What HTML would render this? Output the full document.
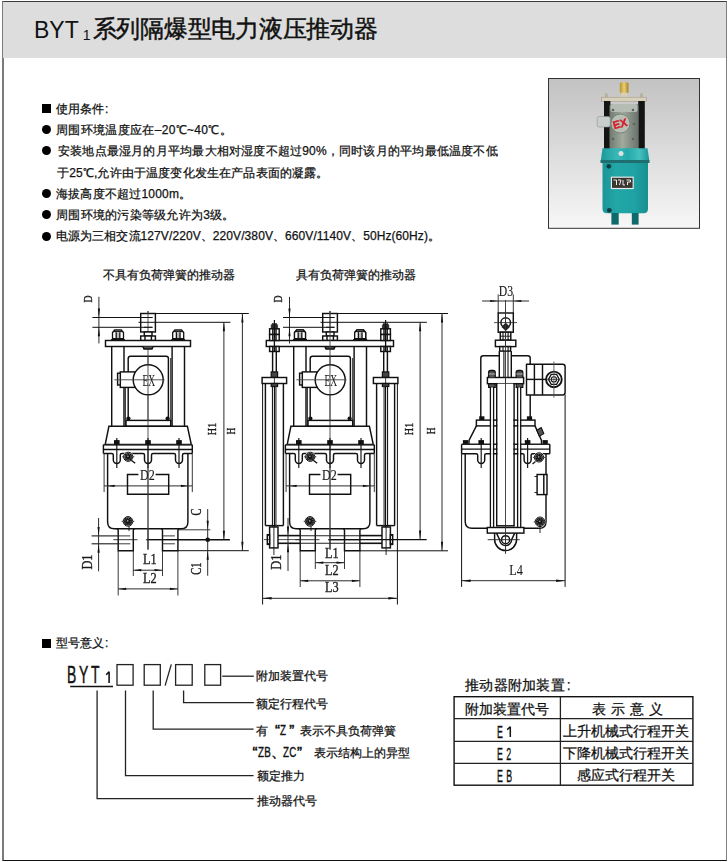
<!DOCTYPE html>
<html><head><meta charset="utf-8">
<style>
*{margin:0;padding:0;box-sizing:border-box}
html,body{width:728px;height:862px;background:#fff;overflow:hidden}
body{position:relative;font-family:"Liberation Sans",sans-serif;color:#111}
.a{position:absolute;white-space:nowrap}
#frame{position:absolute;left:2px;top:1px;width:725px;height:860px;border-top:1px solid #3a3a3a;border-left:2px solid #7a7a7a;border-right:1px solid #7f7f7f;border-bottom:1px solid #111}
#hdr{position:absolute;left:3px;top:2px;width:723px;height:56px;background:#dcdddc}
#title{left:34px;top:15px;line-height:28px;color:#111}
#title sub{font-size:13px;vertical-align:-2px;margin:0 2px 0 2px}
.t{font-size:12px;line-height:14px;left:56px;-webkit-text-stroke:.25px #111}
.bul{position:absolute;left:42px;width:9px;height:9px;border-radius:50%;background:#000}
.sq{position:absolute;left:42px;width:9px;height:9px;background:#000}
.m{font-size:11px;line-height:14px}
.cz{font-size:24px;line-height:26px;transform:scaleX(.58);transform-origin:0 0;color:#111;-webkit-text-stroke:.5px #111}
.cz1{font-size:16.5px;line-height:16px;transform:scaleX(.6);transform-origin:0 0;color:#111;-webkit-text-stroke:.4px #111}
.q{display:inline-block;width:12px;text-align:right;font-size:15px;-webkit-text-stroke:.5px #111}
.ql{text-align:left}
.qc{text-align:center}
.zz{display:inline-block;font-size:14px;transform:scaleX(.7);transform-origin:0 0;letter-spacing:.3px;-webkit-text-stroke:.4px #111}
.tb{font-size:14px;line-height:16px;-webkit-text-stroke:.25px #111}
.sp{display:inline-block;width:5px}
.te{font-size:16px;line-height:16px;letter-spacing:6px;transform:scaleX(.55);transform-origin:0 0;-webkit-text-stroke:.35px #111}
svg{position:absolute;left:0;top:0}
</style></head><body>
<div id="frame"></div>
<div id="hdr"></div>
<div class="a" id="title"><span style="font-size:23px;letter-spacing:0px;position:relative;top:1px">BYT</span><span style="font-size:14px;position:relative;top:3px;margin-left:4px">1</span><span style="font-size:24px;margin-left:2px;letter-spacing:-0.25px;-webkit-text-stroke:.45px #111">系列隔爆型电力液压推动器</span></div>

<div class="sq" style="top:104px;height:9.4px"></div>
<div class="a t" style="top:102px">使用条件<span style="margin-left:1px">:</span></div>
<div class="bul" style="top:125.2px"></div>
<div class="a t" style="top:123px;letter-spacing:.33px">周围环境温度应在–20℃~40℃。</div>
<div class="bul" style="top:146.2px"></div>
<div class="a t" style="top:144px;left:58px;letter-spacing:.21px">安装地点最湿月的月平均最大相对湿度不超过90%，同时该月的平均最低温度不低</div>
<div class="a t" style="top:166px;left:57px;letter-spacing:.16px">于25℃,允许由于温度变化发生在产品表面的凝露。</div>
<div class="bul" style="top:189.2px"></div>
<div class="a t" style="top:187px;letter-spacing:.21px">海拔高度不超过1000m。</div>
<div class="bul" style="top:210.1px"></div>
<div class="a t" style="top:208px;letter-spacing:.27px">周围环境的污染等级允许为3级。</div>
<div class="bul" style="top:232.2px"></div>
<div class="a t" style="top:229px;letter-spacing:.085px">电源为三相交流127V/220V、220V/380V、660V/1140V、50Hz(60Hz)。</div>

<div class="a t" style="left:103px;top:268px">不具有负荷弹簧的推动器</div>
<div class="a t" style="left:296px;top:268px">具有负荷弹簧的推动器</div>

<div class="sq" style="top:638.6px;height:9.4px"></div>
<div class="a t" style="top:636px">型号意义<span style="margin-left:1px">:</span></div>

<div class="a cz" style="left:66.5px;top:662px">B</div>
<div class="a cz" style="left:79.2px;top:662px">Y</div>
<div class="a cz" style="left:90.8px;top:662px">T</div>

<div class="a t" style="left:256px;top:669px">附加装置代号</div>
<div class="a t" style="left:256px;top:697px">额定行程代号</div>
<div class="a t" style="left:256px;top:723px">有<span class="q">“</span><span class="zz" style="margin-right:-2.6px">Z</span><span class="q ql" style="width:14px;padding-left:3px">”</span>表示不具负荷弹簧</div>
<div class="a t" style="left:245.5px;top:745px"><span class="q">“</span><span class="zz" style="margin-right:-5.5px">ZB</span><span class="q qc">、</span><span class="zz" style="margin-right:-5.8px">ZC</span><span class="q ql" style="width:18px;padding-left:1px">”</span>表示结构上的异型</div>
<div class="a t" style="left:257px;top:769px">额定推力</div>
<div class="a t" style="left:257px;top:794px">推动器代号</div>

<div class="a tb" style="left:465px;top:677px;letter-spacing:.25px">推动器附加装置<span style="margin-left:2px">:</span></div>
<div class="a tb" style="left:465px;top:701px">附加装置代号</div>
<div class="a tb" style="left:592px;top:701px;word-spacing:0">表<span class="sp"></span>示<span class="sp"></span>意<span class="sp"></span>义</div>
<div class="a te" style="left:497px;top:725px">E</div>
<div class="a te" style="left:497px;top:747px">E2</div>
<div class="a te" style="left:497px;top:769px">EB</div>
<div class="a tb" style="left:563px;top:723px">上升机械式行程开关</div>
<div class="a tb" style="left:563px;top:745px">下降机械式行程开关</div>
<div class="a tb" style="left:577px;top:767px">感应式行程开关</div>

<!--SVG--><svg width="728" height="862" viewBox="0 0 728 862" style="will-change:transform">
<line x1="148.00" y1="311.00" x2="148.00" y2="549.50" stroke="#444" stroke-width="0.9" fill="none"/>
<rect x="140.70" y="313.50" width="14.70" height="18.50" stroke="#111" stroke-width="1.45"  fill="#fff"/>
<line x1="144.00" y1="317.50" x2="152.50" y2="317.50" stroke="#111" stroke-width="0.9"/>
<line x1="144.00" y1="327.30" x2="152.50" y2="327.30" stroke="#111" stroke-width="0.9"/>
<line x1="148.00" y1="311.00" x2="148.00" y2="349.00" stroke="#444" stroke-width="0.9" fill="none"/>
<rect x="144.30" y="332.00" width="7.70" height="4.00" stroke="#111" stroke-width="1.45"  fill="#fff"/>
<rect x="140.70" y="336.00" width="14.70" height="4.50" stroke="#111" stroke-width="1.45"  fill="#fff"/>
<line x1="145.00" y1="336.00" x2="145.00" y2="340.50" stroke="#111" stroke-width="1.45" fill="none"/>
<line x1="151.40" y1="336.00" x2="151.40" y2="340.50" stroke="#111" stroke-width="1.45" fill="none"/>
<rect x="105.50" y="340.50" width="85.00" height="6.00" stroke="#111" stroke-width="1.45"  fill="#fff"/>
<path d="M143.00,346.5 L144.00,349 L152.00,349 L153.00,346.5" stroke="#111" stroke-width="1.5" fill="#555" />
<path d="M112.50,338.70 L112.50,332.60 L114.70,330.00 L121.30,330.00 L123.50,332.60 L123.50,338.70 Z" stroke="#111" stroke-width="1.3" fill="#fff"/>
<line x1="113.30" y1="331.60" x2="122.70" y2="331.60" stroke="#111" stroke-width="1.1"/>
<rect x="116.17" y="332.40" width="3.67" height="6.10" stroke="none" fill="#bbb"/>
<line x1="116.17" y1="332.20" x2="116.17" y2="338.70" stroke="#111" stroke-width="1.3"/>
<line x1="119.83" y1="332.20" x2="119.83" y2="338.70" stroke="#111" stroke-width="1.3"/>
<path d="M110.70,340.50 L112.50,338.50 L123.50,338.50 L125.30,340.50 Z" stroke="#111" stroke-width="0.8" fill="#111"/>
<path d="M172.70,338.70 L172.70,332.60 L174.90,330.00 L181.50,330.00 L183.70,332.60 L183.70,338.70 Z" stroke="#111" stroke-width="1.3" fill="#fff"/>
<line x1="173.50" y1="331.60" x2="182.90" y2="331.60" stroke="#111" stroke-width="1.1"/>
<rect x="176.37" y="332.40" width="3.67" height="6.10" stroke="none" fill="#bbb"/>
<line x1="176.37" y1="332.20" x2="176.37" y2="338.70" stroke="#111" stroke-width="1.3"/>
<line x1="180.03" y1="332.20" x2="180.03" y2="338.70" stroke="#111" stroke-width="1.3"/>
<path d="M170.90,340.50 L172.70,338.50 L183.70,338.50 L185.50,340.50 Z" stroke="#111" stroke-width="0.8" fill="#111"/>
<line x1="111.70" y1="346.50" x2="111.70" y2="426.30" stroke="#111" stroke-width="1.45" fill="none"/>
<line x1="124.00" y1="346.50" x2="124.00" y2="426.30" stroke="#111" stroke-width="1.45" fill="none"/>
<line x1="172.10" y1="346.50" x2="172.10" y2="426.30" stroke="#111" stroke-width="1.45" fill="none"/>
<line x1="184.50" y1="346.50" x2="184.50" y2="426.30" stroke="#111" stroke-width="1.45" fill="none"/>
<path d="M128.20,420.4 L128.20,358.5 Q128.20,356.2 130.50,356.2 L166.20,356.2 Q168.40,356.2 168.40,358.5 L168.40,420.4" stroke="#111" stroke-width="1.45" fill="none" />
<line x1="125.40" y1="387.00" x2="125.40" y2="426.30" stroke="#111" stroke-width="0.9"/>
<line x1="170.70" y1="358.00" x2="170.70" y2="426.30" stroke="#111" stroke-width="0.9"/>
<rect x="126.00" y="420.40" width="44.70" height="5.90" stroke="#111" stroke-width="1.45"  fill="#fff"/>
<circle cx="128.40" cy="418.60" r="2.10" stroke="none" fill="#111"/>
<circle cx="167.60" cy="418.60" r="2.10" stroke="none" fill="#111"/>
<rect x="120.30" y="371.90" width="14.70" height="15.50" stroke="#111" stroke-width="1.45"  fill="#fff"/>
<rect x="117.60" y="373.20" width="2.70" height="11.80" stroke="#111" stroke-width="1.45"  fill="#fff"/>
<circle cx="148.20" cy="379.80" r="15.00" stroke="#111" stroke-width="1.45"  fill="#fff"/>
<line x1="148.00" y1="356.20" x2="148.00" y2="426.00" stroke="#444" stroke-width="0.9" fill="none"/>
<line x1="114.40" y1="379.80" x2="164.60" y2="379.80" stroke="#444" stroke-width="0.9" fill="none"/>
<text transform="translate(148.80,380.20) scale(0.56,1)" font-family="Liberation Serif" font-size="17" text-anchor="middle" dominant-baseline="central" fill="#1a1a1a" stroke="#1a1a1a" stroke-width="0">EX</text>
<path d="M108.90,426.3 L187.40,426.3 L191.30,444.5 L105.20,444.5 Z" stroke="#111" stroke-width="1.45" fill="none" fill="#fff"/>
<line x1="103.40" y1="444.70" x2="192.30" y2="444.70" stroke="#222" stroke-width="1.5"/>
<line x1="103.40" y1="449.40" x2="192.30" y2="449.40" stroke="#111" stroke-width="1.45" fill="none"/>
<line x1="103.40" y1="444.70" x2="103.40" y2="453.50" stroke="#111" stroke-width="1.45" fill="none"/>
<line x1="192.30" y1="444.70" x2="192.30" y2="453.50" stroke="#111" stroke-width="1.45" fill="none"/>
<path d="M103.40,453.50 L111.70,453.50 Q113.30,453.50 113.30,455.10 L113.30,460.00 A3.5,3.5 0 0 0 120.30,460.00 L120.30,455.10 Q120.30,453.50 121.90,453.50 L142.90,453.50 Q144.50,453.50 144.50,455.10 L144.50,460.00 A3.5,3.5 0 0 0 151.50,460.00 L151.50,455.10 Q151.50,453.50 153.10,453.50 L173.90,453.50 Q175.50,453.50 175.50,455.10 L175.50,460.00 A3.5,3.5 0 0 0 182.50,460.00 L182.50,455.10 Q182.50,453.50 184.10,453.50 L192.30,453.50" stroke="#111" stroke-width="1.45" fill="none" />
<line x1="116.80" y1="438.00" x2="116.80" y2="468.00" stroke="#1a1a1a" stroke-width="1.2"/>
<rect x="114.00" y="440.10" width="5.60" height="4.60" stroke="none" fill="#111"/>
<line x1="148.00" y1="438.00" x2="148.00" y2="468.00" stroke="#1a1a1a" stroke-width="1.2"/>
<rect x="145.20" y="440.10" width="5.60" height="4.60" stroke="none" fill="#111"/>
<line x1="179.00" y1="438.00" x2="179.00" y2="468.00" stroke="#1a1a1a" stroke-width="1.2"/>
<rect x="176.20" y="440.10" width="5.60" height="4.60" stroke="none" fill="#111"/>
<path d="M107.60,453.5 L107.60,522 Q107.60,528.8 114.40,528.8 L181.10,528.8 Q187.90,528.8 187.90,522 L187.90,453.5" stroke="#111" stroke-width="1.45" fill="none" />
<circle cx="128.20" cy="456.80" r="5.40" stroke="none" fill="#fff"/>
<circle cx="128.20" cy="456.80" r="4.60" stroke="#111" stroke-width="1.0" fill="none"/>
<circle cx="128.20" cy="456.80" r="3.90" stroke="none" fill="#161616"/>
<circle cx="128.20" cy="456.80" r="2.80" stroke="#bbb" stroke-width="0.6" stroke-dasharray="0.9 1.1" fill="none"/>
<circle cx="127.90" cy="456.30" r="0.80" stroke="none" fill="#aaa"/>
<line x1="122.10" y1="456.80" x2="123.60" y2="456.80" stroke="#111" stroke-width="0.8"/>
<line x1="132.80" y1="456.80" x2="134.30" y2="456.80" stroke="#111" stroke-width="0.8"/>
<path d="M131.20,460.3 L135.20,463.2" stroke="#111" stroke-width="1.4" />
<line x1="104.10" y1="453.70" x2="104.10" y2="492.10" stroke="#222" stroke-width="0.9"/>
<line x1="192.30" y1="453.70" x2="192.30" y2="492.10" stroke="#222" stroke-width="0.9"/>
<line x1="104.10" y1="485.90" x2="192.30" y2="485.90" stroke="#2a2a2a" stroke-width="1" fill="none"/>
<path d="M107.60,485.90 L114.60,484.70 L114.60,487.10 Z" fill="#111"/>
<path d="M187.90,485.90 L180.90,487.10 L180.90,484.70 Z" fill="#111"/>
<path d="M138.40,474.5 L127.50,474.5 L127.50,494.2 L168.70,494.2 L168.70,474.5 L155.60,474.5" stroke="#111" stroke-width="1.45" fill="none" />
<text transform="translate(147.40,475.30) scale(0.86,1)" font-family="Liberation Serif" font-size="14" text-anchor="middle" dominant-baseline="central" fill="#1a1a1a" stroke="#1a1a1a" stroke-width="0.15">D2</text>
<line x1="148.00" y1="466.00" x2="148.00" y2="549.50" stroke="#444" stroke-width="0.9" fill="none"/>
<circle cx="128.00" cy="521.40" r="5.60" stroke="none" fill="#fff"/>
<circle cx="128.00" cy="521.40" r="4.80" stroke="#111" stroke-width="1.0" fill="none"/>
<circle cx="128.00" cy="521.40" r="4.10" stroke="none" fill="#161616"/>
<circle cx="128.00" cy="521.40" r="3.00" stroke="#bbb" stroke-width="0.6" stroke-dasharray="0.9 1.1" fill="none"/>
<circle cx="127.70" cy="520.90" r="0.80" stroke="none" fill="#aaa"/>
<line x1="121.70" y1="521.40" x2="123.20" y2="521.40" stroke="#111" stroke-width="0.8"/>
<line x1="132.80" y1="521.40" x2="134.30" y2="521.40" stroke="#111" stroke-width="0.8"/>
<line x1="129.00" y1="526.00" x2="129.00" y2="531.00" stroke="#111" stroke-width="0.9"/>
<path d="M116.70,528.8 Q118.20,528.8 118.20,530.5 L118.20,550.7 L133.30,550.7 L133.30,530.5 Q133.30,528.8 134.80,528.8" stroke="#111" stroke-width="1.45" fill="none" fill="#fff"/>
<path d="M161.00,528.8 Q162.50,528.8 162.50,530.5 L162.50,550.7 L177.90,550.7 L177.90,530.5 Q177.90,528.8 179.40,528.8" stroke="#111" stroke-width="1.45" fill="none" fill="#fff"/>
<line x1="118.20" y1="535.90" x2="130.30" y2="535.90" stroke="#222" stroke-width="0.9"/>
<line x1="118.20" y1="543.80" x2="130.30" y2="543.80" stroke="#222" stroke-width="0.9"/>
<line x1="162.50" y1="535.90" x2="174.90" y2="535.90" stroke="#222" stroke-width="0.9"/>
<line x1="162.50" y1="543.80" x2="174.90" y2="543.80" stroke="#222" stroke-width="0.9"/>
<line x1="113.30" y1="539.70" x2="137.50" y2="539.70" stroke="#222" stroke-width="0.9"/>
<line x1="146.30" y1="539.70" x2="178.00" y2="539.70" stroke="#111" stroke-width="1.4"/>
<line x1="148.00" y1="530.00" x2="148.00" y2="549.50" stroke="#444" stroke-width="0.9" fill="none"/>
<text transform="translate(87.80,299.00) rotate(-90) scale(0.75,1)" font-family="Liberation Serif" font-size="13" text-anchor="middle" dominant-baseline="central" fill="#1a1a1a" stroke="#1a1a1a" stroke-width="0.35">D</text>
<line x1="98.90" y1="296.80" x2="98.90" y2="343.40" stroke="#2a2a2a" stroke-width="1" fill="none"/>
<line x1="92.40" y1="317.50" x2="152.50" y2="317.50" stroke="#111" stroke-width="1"/>
<line x1="92.40" y1="327.30" x2="152.50" y2="327.30" stroke="#111" stroke-width="1"/>
<path d="M98.90,317.50 L97.80,308.50 L100.00,308.50 Z" fill="#111"/>
<path d="M98.90,327.30 L100.00,336.30 L97.80,336.30 Z" fill="#111"/>
<line x1="155.40" y1="313.50" x2="248.80" y2="313.50" stroke="#111" stroke-width="1"/>
<line x1="138.50" y1="322.30" x2="230.40" y2="322.30" stroke="#111" stroke-width="1"/>
<line x1="223.90" y1="322.30" x2="223.90" y2="539.70" stroke="#2a2a2a" stroke-width="1" fill="none"/>
<path d="M223.90,322.30 L225.00,331.30 L222.80,331.30 Z" fill="#111"/>
<path d="M223.90,539.70 L222.80,530.70 L225.00,530.70 Z" fill="#111"/>
<line x1="242.40" y1="313.50" x2="242.40" y2="550.70" stroke="#2a2a2a" stroke-width="1" fill="none"/>
<path d="M242.40,313.50 L243.50,322.50 L241.30,322.50 Z" fill="#111"/>
<path d="M242.40,550.70 L241.30,541.70 L243.50,541.70 Z" fill="#111"/>
<text transform="translate(212.40,429.00) rotate(-90) scale(0.78,1)" font-family="Liberation Serif" font-size="13" text-anchor="middle" dominant-baseline="central" fill="#1a1a1a" stroke="#1a1a1a" stroke-width="0.35">H1</text>
<text transform="translate(230.80,431.10) rotate(-90) scale(0.72,1)" font-family="Liberation Serif" font-size="13" text-anchor="middle" dominant-baseline="central" fill="#1a1a1a" stroke="#1a1a1a" stroke-width="0.35">H</text>
<line x1="178.00" y1="539.70" x2="229.90" y2="539.70" stroke="#111" stroke-width="1.4"/>
<line x1="177.90" y1="550.70" x2="248.80" y2="550.70" stroke="#111" stroke-width="1"/>
<line x1="177.90" y1="529.80" x2="210.30" y2="529.80" stroke="#222" stroke-width="0.9"/>
<line x1="207.70" y1="509.10" x2="207.70" y2="575.70" stroke="#2a2a2a" stroke-width="1" fill="none"/>
<path d="M207.70,529.80 L206.60,520.80 L208.80,520.80 Z" fill="#111"/>
<path d="M207.70,550.70 L208.80,559.70 L206.60,559.70 Z" fill="#111"/>
<circle cx="207.70" cy="539.70" r="2.30" stroke="none" fill="#111"/>
<text transform="translate(196.70,512.00) rotate(-90) scale(0.75,1)" font-family="Liberation Serif" font-size="14" text-anchor="middle" dominant-baseline="central" fill="#1a1a1a" stroke="#1a1a1a" stroke-width="0.35">C</text>
<text transform="translate(196.60,568.60) rotate(-90) scale(0.75,1)" font-family="Liberation Serif" font-size="14" text-anchor="middle" dominant-baseline="central" fill="#1a1a1a" stroke="#1a1a1a" stroke-width="0.35">C1</text>
<line x1="91.60" y1="535.90" x2="118.20" y2="535.90" stroke="#1a1a1a" stroke-width="1.1"/>
<line x1="91.60" y1="543.80" x2="118.20" y2="543.80" stroke="#1a1a1a" stroke-width="1.1"/>
<line x1="98.60" y1="518.00" x2="98.60" y2="571.30" stroke="#2a2a2a" stroke-width="1" fill="none"/>
<path d="M98.60,535.90 L97.50,526.90 L99.70,526.90 Z" fill="#111"/>
<path d="M98.60,543.80 L99.70,552.80 L97.50,552.80 Z" fill="#111"/>
<text transform="translate(87.20,562.00) rotate(-90) scale(0.88,1)" font-family="Liberation Serif" font-size="14" text-anchor="middle" dominant-baseline="central" fill="#1a1a1a" stroke="#1a1a1a" stroke-width="0.35">D1</text>
<line x1="133.30" y1="550.70" x2="133.30" y2="576.00" stroke="#222" stroke-width="0.9"/>
<line x1="162.50" y1="550.70" x2="162.50" y2="576.00" stroke="#222" stroke-width="0.9"/>
<line x1="118.20" y1="550.70" x2="118.20" y2="595.50" stroke="#222" stroke-width="0.9"/>
<line x1="177.90" y1="550.70" x2="177.90" y2="595.50" stroke="#222" stroke-width="0.9"/>
<line x1="133.30" y1="570.20" x2="162.50" y2="570.20" stroke="#2a2a2a" stroke-width="1" fill="none"/>
<path d="M133.30,570.20 L141.30,569.10 L141.30,571.30 Z" fill="#111"/>
<path d="M162.50,570.20 L154.50,571.30 L154.50,569.10 Z" fill="#111"/>
<line x1="118.20" y1="588.90" x2="177.90" y2="588.90" stroke="#2a2a2a" stroke-width="1" fill="none"/>
<path d="M118.20,588.90 L126.20,587.80 L126.20,590.00 Z" fill="#111"/>
<path d="M177.90,588.90 L169.90,590.00 L169.90,587.80 Z" fill="#111"/>
<text transform="translate(149.70,558.80) scale(0.82,1)" font-family="Liberation Serif" font-size="15" text-anchor="middle" dominant-baseline="central" fill="#1a1a1a" stroke="#1a1a1a" stroke-width="0.35">L1</text>
<text transform="translate(149.70,577.60) scale(0.82,1)" font-family="Liberation Serif" font-size="15" text-anchor="middle" dominant-baseline="central" fill="#1a1a1a" stroke="#1a1a1a" stroke-width="0.35">L2</text>
<line x1="330.00" y1="311.00" x2="330.00" y2="549.50" stroke="#444" stroke-width="0.9" fill="none"/>
<rect x="322.70" y="313.50" width="14.70" height="18.50" stroke="#111" stroke-width="1.45"  fill="#fff"/>
<line x1="326.00" y1="317.50" x2="334.50" y2="317.50" stroke="#111" stroke-width="0.9"/>
<line x1="326.00" y1="327.30" x2="334.50" y2="327.30" stroke="#111" stroke-width="0.9"/>
<line x1="330.00" y1="311.00" x2="330.00" y2="349.00" stroke="#444" stroke-width="0.9" fill="none"/>
<rect x="326.30" y="332.00" width="7.70" height="4.00" stroke="#111" stroke-width="1.45"  fill="#fff"/>
<rect x="322.70" y="336.00" width="14.70" height="4.50" stroke="#111" stroke-width="1.45"  fill="#fff"/>
<line x1="327.00" y1="336.00" x2="327.00" y2="340.50" stroke="#111" stroke-width="1.45" fill="none"/>
<line x1="333.40" y1="336.00" x2="333.40" y2="340.50" stroke="#111" stroke-width="1.45" fill="none"/>
<path d="M325.00,346.5 L326.00,349 L334.00,349 L335.00,346.5" stroke="#111" stroke-width="1.5" fill="#555" />
<path d="M294.50,338.70 L294.50,332.60 L296.70,330.00 L303.30,330.00 L305.50,332.60 L305.50,338.70 Z" stroke="#111" stroke-width="1.3" fill="#fff"/>
<line x1="295.30" y1="331.60" x2="304.70" y2="331.60" stroke="#111" stroke-width="1.1"/>
<rect x="298.17" y="332.40" width="3.67" height="6.10" stroke="none" fill="#bbb"/>
<line x1="298.17" y1="332.20" x2="298.17" y2="338.70" stroke="#111" stroke-width="1.3"/>
<line x1="301.83" y1="332.20" x2="301.83" y2="338.70" stroke="#111" stroke-width="1.3"/>
<path d="M292.70,340.50 L294.50,338.50 L305.50,338.50 L307.30,340.50 Z" stroke="#111" stroke-width="0.8" fill="#111"/>
<path d="M354.70,338.70 L354.70,332.60 L356.90,330.00 L363.50,330.00 L365.70,332.60 L365.70,338.70 Z" stroke="#111" stroke-width="1.3" fill="#fff"/>
<line x1="355.50" y1="331.60" x2="364.90" y2="331.60" stroke="#111" stroke-width="1.1"/>
<rect x="358.37" y="332.40" width="3.67" height="6.10" stroke="none" fill="#bbb"/>
<line x1="358.37" y1="332.20" x2="358.37" y2="338.70" stroke="#111" stroke-width="1.3"/>
<line x1="362.03" y1="332.20" x2="362.03" y2="338.70" stroke="#111" stroke-width="1.3"/>
<path d="M352.90,340.50 L354.70,338.50 L365.70,338.50 L367.50,340.50 Z" stroke="#111" stroke-width="0.8" fill="#111"/>
<line x1="293.70" y1="346.50" x2="293.70" y2="426.30" stroke="#111" stroke-width="1.45" fill="none"/>
<line x1="306.00" y1="346.50" x2="306.00" y2="426.30" stroke="#111" stroke-width="1.45" fill="none"/>
<line x1="354.10" y1="346.50" x2="354.10" y2="426.30" stroke="#111" stroke-width="1.45" fill="none"/>
<line x1="366.50" y1="346.50" x2="366.50" y2="426.30" stroke="#111" stroke-width="1.45" fill="none"/>
<path d="M310.20,420.4 L310.20,358.5 Q310.20,356.2 312.50,356.2 L348.20,356.2 Q350.40,356.2 350.40,358.5 L350.40,420.4" stroke="#111" stroke-width="1.45" fill="none" />
<line x1="307.40" y1="387.00" x2="307.40" y2="426.30" stroke="#111" stroke-width="0.9"/>
<line x1="352.70" y1="358.00" x2="352.70" y2="426.30" stroke="#111" stroke-width="0.9"/>
<rect x="308.00" y="420.40" width="44.70" height="5.90" stroke="#111" stroke-width="1.45"  fill="#fff"/>
<circle cx="310.40" cy="418.60" r="2.10" stroke="none" fill="#111"/>
<circle cx="349.60" cy="418.60" r="2.10" stroke="none" fill="#111"/>
<rect x="302.30" y="371.90" width="14.70" height="15.50" stroke="#111" stroke-width="1.45"  fill="#fff"/>
<rect x="299.60" y="373.20" width="2.70" height="11.80" stroke="#111" stroke-width="1.45"  fill="#fff"/>
<circle cx="330.20" cy="379.80" r="15.00" stroke="#111" stroke-width="1.45"  fill="#fff"/>
<line x1="330.00" y1="356.20" x2="330.00" y2="426.00" stroke="#444" stroke-width="0.9" fill="none"/>
<line x1="296.40" y1="379.80" x2="346.60" y2="379.80" stroke="#444" stroke-width="0.9" fill="none"/>
<text transform="translate(330.80,380.20) scale(0.56,1)" font-family="Liberation Serif" font-size="17" text-anchor="middle" dominant-baseline="central" fill="#1a1a1a" stroke="#1a1a1a" stroke-width="0">EX</text>
<path d="M290.90,426.3 L369.40,426.3 L373.30,444.5 L287.20,444.5 Z" stroke="#111" stroke-width="1.45" fill="none" fill="#fff"/>
<line x1="285.40" y1="444.70" x2="374.30" y2="444.70" stroke="#222" stroke-width="1.5"/>
<line x1="285.40" y1="449.40" x2="374.30" y2="449.40" stroke="#111" stroke-width="1.45" fill="none"/>
<line x1="285.40" y1="444.70" x2="285.40" y2="453.50" stroke="#111" stroke-width="1.45" fill="none"/>
<line x1="374.30" y1="444.70" x2="374.30" y2="453.50" stroke="#111" stroke-width="1.45" fill="none"/>
<path d="M285.40,453.50 L293.70,453.50 Q295.30,453.50 295.30,455.10 L295.30,460.00 A3.5,3.5 0 0 0 302.30,460.00 L302.30,455.10 Q302.30,453.50 303.90,453.50 L324.90,453.50 Q326.50,453.50 326.50,455.10 L326.50,460.00 A3.5,3.5 0 0 0 333.50,460.00 L333.50,455.10 Q333.50,453.50 335.10,453.50 L355.90,453.50 Q357.50,453.50 357.50,455.10 L357.50,460.00 A3.5,3.5 0 0 0 364.50,460.00 L364.50,455.10 Q364.50,453.50 366.10,453.50 L374.30,453.50" stroke="#111" stroke-width="1.45" fill="none" />
<line x1="298.80" y1="438.00" x2="298.80" y2="468.00" stroke="#1a1a1a" stroke-width="1.2"/>
<rect x="296.00" y="440.10" width="5.60" height="4.60" stroke="none" fill="#111"/>
<line x1="330.00" y1="438.00" x2="330.00" y2="468.00" stroke="#1a1a1a" stroke-width="1.2"/>
<rect x="327.20" y="440.10" width="5.60" height="4.60" stroke="none" fill="#111"/>
<line x1="361.00" y1="438.00" x2="361.00" y2="468.00" stroke="#1a1a1a" stroke-width="1.2"/>
<rect x="358.20" y="440.10" width="5.60" height="4.60" stroke="none" fill="#111"/>
<path d="M289.60,453.5 L289.60,522 Q289.60,528.8 296.40,528.8 L363.10,528.8 Q369.90,528.8 369.90,522 L369.90,453.5" stroke="#111" stroke-width="1.45" fill="none" />
<circle cx="310.20" cy="456.80" r="5.40" stroke="none" fill="#fff"/>
<circle cx="310.20" cy="456.80" r="4.60" stroke="#111" stroke-width="1.0" fill="none"/>
<circle cx="310.20" cy="456.80" r="3.90" stroke="none" fill="#161616"/>
<circle cx="310.20" cy="456.80" r="2.80" stroke="#bbb" stroke-width="0.6" stroke-dasharray="0.9 1.1" fill="none"/>
<circle cx="309.90" cy="456.30" r="0.80" stroke="none" fill="#aaa"/>
<line x1="304.10" y1="456.80" x2="305.60" y2="456.80" stroke="#111" stroke-width="0.8"/>
<line x1="314.80" y1="456.80" x2="316.30" y2="456.80" stroke="#111" stroke-width="0.8"/>
<path d="M313.20,460.3 L317.20,463.2" stroke="#111" stroke-width="1.4" />
<line x1="286.10" y1="453.70" x2="286.10" y2="492.10" stroke="#222" stroke-width="0.9"/>
<line x1="374.30" y1="453.70" x2="374.30" y2="492.10" stroke="#222" stroke-width="0.9"/>
<line x1="286.10" y1="485.90" x2="374.30" y2="485.90" stroke="#2a2a2a" stroke-width="1" fill="none"/>
<path d="M289.60,485.90 L296.60,484.70 L296.60,487.10 Z" fill="#111"/>
<path d="M369.90,485.90 L362.90,487.10 L362.90,484.70 Z" fill="#111"/>
<path d="M320.40,474.5 L309.50,474.5 L309.50,494.2 L350.70,494.2 L350.70,474.5 L337.60,474.5" stroke="#111" stroke-width="1.45" fill="none" />
<text transform="translate(329.40,475.30) scale(0.86,1)" font-family="Liberation Serif" font-size="14" text-anchor="middle" dominant-baseline="central" fill="#1a1a1a" stroke="#1a1a1a" stroke-width="0.15">D2</text>
<line x1="330.00" y1="466.00" x2="330.00" y2="549.50" stroke="#444" stroke-width="0.9" fill="none"/>
<circle cx="310.00" cy="521.40" r="5.60" stroke="none" fill="#fff"/>
<circle cx="310.00" cy="521.40" r="4.80" stroke="#111" stroke-width="1.0" fill="none"/>
<circle cx="310.00" cy="521.40" r="4.10" stroke="none" fill="#161616"/>
<circle cx="310.00" cy="521.40" r="3.00" stroke="#bbb" stroke-width="0.6" stroke-dasharray="0.9 1.1" fill="none"/>
<circle cx="309.70" cy="520.90" r="0.80" stroke="none" fill="#aaa"/>
<line x1="303.70" y1="521.40" x2="305.20" y2="521.40" stroke="#111" stroke-width="0.8"/>
<line x1="314.80" y1="521.40" x2="316.30" y2="521.40" stroke="#111" stroke-width="0.8"/>
<line x1="311.00" y1="526.00" x2="311.00" y2="531.00" stroke="#111" stroke-width="0.9"/>
<path d="M298.70,528.8 Q300.20,528.8 300.20,530.5 L300.20,550.7 L315.30,550.7 L315.30,530.5 Q315.30,528.8 316.80,528.8" stroke="#111" stroke-width="1.45" fill="none" fill="#fff"/>
<path d="M343.00,528.8 Q344.50,528.8 344.50,530.5 L344.50,550.7 L359.90,550.7 L359.90,530.5 Q359.90,528.8 361.40,528.8" stroke="#111" stroke-width="1.45" fill="none" fill="#fff"/>
<line x1="295.30" y1="539.70" x2="319.50" y2="539.70" stroke="#222" stroke-width="0.9"/>
<line x1="328.30" y1="539.70" x2="360.00" y2="539.70" stroke="#111" stroke-width="1.4"/>
<line x1="330.00" y1="530.00" x2="330.00" y2="549.50" stroke="#444" stroke-width="0.9" fill="none"/>
<rect x="266.30" y="340.50" width="127.20" height="6.00" stroke="#111" stroke-width="1.45"  fill="#fff"/>
<path d="M271.20,329 L271.20,325.2 L272.80,323 L274.40,325 L276.00,323 L277.60,325.2 L277.60,329 Z" stroke="#111" stroke-width="0.6" fill="#2a2a2a" />
<line x1="274.40" y1="320.00" x2="274.40" y2="329.00" stroke="#111" stroke-width="1.2"/>
<rect x="269.60" y="328.80" width="9.60" height="5.70" stroke="#111" stroke-width="1.45"  fill="#fff"/>
<line x1="272.80" y1="328.80" x2="272.80" y2="334.50" stroke="#111" stroke-width="1.45" fill="none"/>
<line x1="276.00" y1="328.80" x2="276.00" y2="334.50" stroke="#111" stroke-width="1.45" fill="none"/>
<rect x="269.60" y="334.50" width="9.60" height="6.00" stroke="#111" stroke-width="1.45"  fill="#fff"/>
<line x1="272.80" y1="334.50" x2="272.80" y2="340.50" stroke="#111" stroke-width="1.45" fill="none"/>
<line x1="276.00" y1="334.50" x2="276.00" y2="340.50" stroke="#111" stroke-width="1.45" fill="none"/>
<rect x="269.60" y="346.50" width="9.60" height="5.00" stroke="#111" stroke-width="1.45"  fill="#fff"/>
<line x1="272.80" y1="346.50" x2="272.80" y2="351.50" stroke="#111" stroke-width="1.45" fill="none"/>
<line x1="276.00" y1="346.50" x2="276.00" y2="351.50" stroke="#111" stroke-width="1.45" fill="none"/>
<line x1="272.60" y1="351.50" x2="272.60" y2="372.00" stroke="#111" stroke-width="1.45" fill="none"/>
<line x1="276.30" y1="351.50" x2="276.30" y2="372.00" stroke="#111" stroke-width="1.45" fill="none"/>
<rect x="271.20" y="371.90" width="6.40" height="5.60" stroke="#111" stroke-width="1.2" fill="#444"/>
<rect x="262.10" y="377.50" width="24.50" height="6.00" stroke="#111" stroke-width="1.45"  fill="#fff"/>
<line x1="274.40" y1="377.50" x2="274.40" y2="383.50" stroke="#111" stroke-width="0.8"/>
<rect x="271.20" y="383.50" width="6.40" height="3.00" stroke="#111" stroke-width="1.2" fill="#444"/>
<line x1="265.40" y1="383.50" x2="265.40" y2="525.60" stroke="#111" stroke-width="1.45" fill="none"/>
<line x1="283.40" y1="383.50" x2="283.40" y2="525.60" stroke="#111" stroke-width="1.45" fill="none"/>
<line x1="265.40" y1="525.60" x2="283.40" y2="525.60" stroke="#111" stroke-width="1.45" fill="none"/>
<line x1="262.60" y1="383.50" x2="262.60" y2="604.50" stroke="#111" stroke-width="1"/>
<line x1="272.50" y1="386.50" x2="272.50" y2="527.00" stroke="#1a1a1a" stroke-width="1.2"/>
<line x1="276.00" y1="386.50" x2="276.00" y2="527.00" stroke="#444" stroke-width="1.1"/>
<line x1="274.60" y1="386.50" x2="274.60" y2="527.00" stroke="#111" stroke-width="1.3"/>
<rect x="269.60" y="527.00" width="8.40" height="20.90" stroke="#111" stroke-width="1.45"  fill="#fff"/>
<line x1="273.90" y1="527.00" x2="273.90" y2="555.00" stroke="#111" stroke-width="0.9"/>
<rect x="267.30" y="534.70" width="2.30" height="9.70" stroke="#111" stroke-width="1.45"  fill="#fff"/>
<line x1="263.90" y1="539.60" x2="269.60" y2="539.60" stroke="#222" stroke-width="0.8"/>
<path d="M388.80,329 L388.80,325.2 L387.20,323 L385.60,325 L384.00,323 L382.40,325.2 L382.40,329 Z" stroke="#111" stroke-width="0.6" fill="#2a2a2a" />
<line x1="385.60" y1="320.00" x2="385.60" y2="329.00" stroke="#111" stroke-width="1.2"/>
<rect x="380.80" y="328.80" width="9.60" height="5.70" stroke="#111" stroke-width="1.45"  fill="#fff"/>
<line x1="384.00" y1="328.80" x2="384.00" y2="334.50" stroke="#111" stroke-width="1.45" fill="none"/>
<line x1="387.20" y1="328.80" x2="387.20" y2="334.50" stroke="#111" stroke-width="1.45" fill="none"/>
<rect x="380.80" y="334.50" width="9.60" height="6.00" stroke="#111" stroke-width="1.45"  fill="#fff"/>
<line x1="384.00" y1="334.50" x2="384.00" y2="340.50" stroke="#111" stroke-width="1.45" fill="none"/>
<line x1="387.20" y1="334.50" x2="387.20" y2="340.50" stroke="#111" stroke-width="1.45" fill="none"/>
<rect x="380.80" y="346.50" width="9.60" height="5.00" stroke="#111" stroke-width="1.45"  fill="#fff"/>
<line x1="384.00" y1="346.50" x2="384.00" y2="351.50" stroke="#111" stroke-width="1.45" fill="none"/>
<line x1="387.20" y1="346.50" x2="387.20" y2="351.50" stroke="#111" stroke-width="1.45" fill="none"/>
<line x1="387.40" y1="351.50" x2="387.40" y2="372.00" stroke="#111" stroke-width="1.45" fill="none"/>
<line x1="383.70" y1="351.50" x2="383.70" y2="372.00" stroke="#111" stroke-width="1.45" fill="none"/>
<rect x="382.40" y="371.90" width="6.40" height="5.60" stroke="#111" stroke-width="1.2" fill="#444"/>
<rect x="373.40" y="377.50" width="24.50" height="6.00" stroke="#111" stroke-width="1.45"  fill="#fff"/>
<line x1="385.60" y1="377.50" x2="385.60" y2="383.50" stroke="#111" stroke-width="0.8"/>
<rect x="382.40" y="383.50" width="6.40" height="3.00" stroke="#111" stroke-width="1.2" fill="#444"/>
<line x1="394.60" y1="383.50" x2="394.60" y2="525.60" stroke="#111" stroke-width="1.45" fill="none"/>
<line x1="376.60" y1="383.50" x2="376.60" y2="525.60" stroke="#111" stroke-width="1.45" fill="none"/>
<line x1="394.60" y1="525.60" x2="376.60" y2="525.60" stroke="#111" stroke-width="1.45" fill="none"/>
<line x1="397.40" y1="383.50" x2="397.40" y2="604.50" stroke="#111" stroke-width="1"/>
<line x1="387.50" y1="386.50" x2="387.50" y2="527.00" stroke="#1a1a1a" stroke-width="1.2"/>
<line x1="384.00" y1="386.50" x2="384.00" y2="527.00" stroke="#444" stroke-width="1.1"/>
<line x1="385.40" y1="386.50" x2="385.40" y2="527.00" stroke="#111" stroke-width="1.3"/>
<rect x="382.00" y="527.00" width="8.40" height="20.90" stroke="#111" stroke-width="1.45"  fill="#fff"/>
<line x1="386.10" y1="527.00" x2="386.10" y2="555.00" stroke="#111" stroke-width="0.9"/>
<rect x="390.40" y="534.70" width="2.30" height="9.70" stroke="#111" stroke-width="1.45"  fill="#fff"/>
<line x1="396.10" y1="539.60" x2="390.40" y2="539.60" stroke="#222" stroke-width="0.8"/>
<line x1="274.40" y1="328.80" x2="274.40" y2="351.50" stroke="#111" stroke-width="1.3"/>
<line x1="385.60" y1="328.80" x2="385.60" y2="351.50" stroke="#111" stroke-width="1.3"/>
<path d="M294.50,338.70 L294.50,332.60 L296.70,330.00 L303.30,330.00 L305.50,332.60 L305.50,338.70 Z" stroke="#111" stroke-width="1.3" fill="#fff"/>
<line x1="295.30" y1="331.60" x2="304.70" y2="331.60" stroke="#111" stroke-width="1.1"/>
<rect x="298.17" y="332.40" width="3.67" height="6.10" stroke="none" fill="#bbb"/>
<line x1="298.17" y1="332.20" x2="298.17" y2="338.70" stroke="#111" stroke-width="1.3"/>
<line x1="301.83" y1="332.20" x2="301.83" y2="338.70" stroke="#111" stroke-width="1.3"/>
<path d="M292.70,340.50 L294.50,338.50 L305.50,338.50 L307.30,340.50 Z" stroke="#111" stroke-width="0.8" fill="#111"/>
<path d="M354.70,338.70 L354.70,332.60 L356.90,330.00 L363.50,330.00 L365.70,332.60 L365.70,338.70 Z" stroke="#111" stroke-width="1.3" fill="#fff"/>
<line x1="355.50" y1="331.60" x2="364.90" y2="331.60" stroke="#111" stroke-width="1.1"/>
<rect x="358.37" y="332.40" width="3.67" height="6.10" stroke="none" fill="#bbb"/>
<line x1="358.37" y1="332.20" x2="358.37" y2="338.70" stroke="#111" stroke-width="1.3"/>
<line x1="362.03" y1="332.20" x2="362.03" y2="338.70" stroke="#111" stroke-width="1.3"/>
<path d="M352.90,340.50 L354.70,338.50 L365.70,338.50 L367.50,340.50 Z" stroke="#111" stroke-width="0.8" fill="#111"/>
<line x1="330.00" y1="311.00" x2="330.00" y2="349.00" stroke="#444" stroke-width="0.9" fill="none"/>
<line x1="278.00" y1="535.60" x2="300.20" y2="535.60" stroke="#111" stroke-width="1.6"/>
<line x1="278.00" y1="543.30" x2="300.20" y2="543.30" stroke="#111" stroke-width="1.6"/>
<line x1="359.90" y1="535.60" x2="382.00" y2="535.60" stroke="#111" stroke-width="1.6"/>
<line x1="359.90" y1="543.30" x2="382.00" y2="543.30" stroke="#111" stroke-width="1.6"/>
<line x1="300.20" y1="535.80" x2="359.90" y2="535.80" stroke="#222" stroke-width="1.1"/>
<line x1="300.20" y1="543.20" x2="359.90" y2="543.20" stroke="#222" stroke-width="1.1"/>
<line x1="278.00" y1="539.60" x2="300.20" y2="539.60" stroke="#222" stroke-width="0.8"/>
<text transform="translate(277.70,299.00) rotate(-90) scale(0.75,1)" font-family="Liberation Serif" font-size="13" text-anchor="middle" dominant-baseline="central" fill="#1a1a1a" stroke="#1a1a1a" stroke-width="0.35">D</text>
<line x1="289.50" y1="296.80" x2="289.50" y2="343.40" stroke="#2a2a2a" stroke-width="1" fill="none"/>
<line x1="283.00" y1="317.50" x2="334.50" y2="317.50" stroke="#111" stroke-width="1"/>
<line x1="283.00" y1="327.30" x2="334.50" y2="327.30" stroke="#111" stroke-width="1"/>
<path d="M289.50,317.50 L288.40,308.50 L290.60,308.50 Z" fill="#111"/>
<path d="M289.50,327.30 L290.60,336.30 L288.40,336.30 Z" fill="#111"/>
<line x1="337.40" y1="313.50" x2="448.00" y2="313.50" stroke="#111" stroke-width="1"/>
<line x1="320.50" y1="322.30" x2="426.90" y2="322.30" stroke="#111" stroke-width="1"/>
<line x1="420.10" y1="322.30" x2="420.10" y2="539.60" stroke="#2a2a2a" stroke-width="1" fill="none"/>
<path d="M420.10,322.30 L421.20,331.30 L419.00,331.30 Z" fill="#111"/>
<path d="M420.10,539.60 L419.00,530.60 L421.20,530.60 Z" fill="#111"/>
<line x1="442.00" y1="313.50" x2="442.00" y2="550.80" stroke="#2a2a2a" stroke-width="1" fill="none"/>
<path d="M442.00,313.50 L443.10,322.50 L440.90,322.50 Z" fill="#111"/>
<path d="M442.00,550.80 L440.90,541.80 L443.10,541.80 Z" fill="#111"/>
<text transform="translate(408.80,429.00) rotate(-90) scale(0.78,1)" font-family="Liberation Serif" font-size="13" text-anchor="middle" dominant-baseline="central" fill="#1a1a1a" stroke="#1a1a1a" stroke-width="0.35">H1</text>
<text transform="translate(430.30,431.00) rotate(-90) scale(0.72,1)" font-family="Liberation Serif" font-size="13" text-anchor="middle" dominant-baseline="central" fill="#1a1a1a" stroke="#1a1a1a" stroke-width="0.35">H</text>
<line x1="360.00" y1="539.60" x2="426.70" y2="539.60" stroke="#111" stroke-width="1.2"/>
<line x1="359.90" y1="550.80" x2="448.00" y2="550.80" stroke="#111" stroke-width="1"/>
<line x1="288.00" y1="518.00" x2="288.00" y2="571.00" stroke="#2a2a2a" stroke-width="1" fill="none"/>
<path d="M288.00,535.60 L286.90,526.60 L289.10,526.60 Z" fill="#111"/>
<path d="M288.00,543.30 L289.10,552.30 L286.90,552.30 Z" fill="#111"/>
<text transform="translate(276.60,562.20) rotate(-90) scale(0.88,1)" font-family="Liberation Serif" font-size="14" text-anchor="middle" dominant-baseline="central" fill="#1a1a1a" stroke="#1a1a1a" stroke-width="0.35">D1</text>
<line x1="315.30" y1="550.70" x2="315.30" y2="569.00" stroke="#222" stroke-width="0.9"/>
<line x1="344.50" y1="550.70" x2="344.50" y2="569.00" stroke="#222" stroke-width="0.9"/>
<line x1="300.20" y1="550.70" x2="300.20" y2="587.00" stroke="#222" stroke-width="0.9"/>
<line x1="359.90" y1="550.70" x2="359.90" y2="587.00" stroke="#222" stroke-width="0.9"/>
<line x1="315.30" y1="562.70" x2="344.50" y2="562.70" stroke="#2a2a2a" stroke-width="1" fill="none"/>
<path d="M315.30,562.70 L323.30,561.60 L323.30,563.80 Z" fill="#111"/>
<path d="M344.50,562.70 L336.50,563.80 L336.50,561.60 Z" fill="#111"/>
<line x1="300.20" y1="580.80" x2="359.90" y2="580.80" stroke="#2a2a2a" stroke-width="1" fill="none"/>
<path d="M300.20,580.80 L308.20,579.70 L308.20,581.90 Z" fill="#111"/>
<path d="M359.90,580.80 L351.90,581.90 L351.90,579.70 Z" fill="#111"/>
<line x1="262.60" y1="598.30" x2="397.40" y2="598.30" stroke="#2a2a2a" stroke-width="1" fill="none"/>
<path d="M262.60,598.30 L271.60,597.10 L271.60,599.50 Z" fill="#111"/>
<path d="M397.40,598.30 L388.40,599.50 L388.40,597.10 Z" fill="#111"/>
<text transform="translate(331.70,552.60) scale(0.82,1)" font-family="Liberation Serif" font-size="15" text-anchor="middle" dominant-baseline="central" fill="#1a1a1a" stroke="#1a1a1a" stroke-width="0.35">L1</text>
<text transform="translate(331.70,570.00) scale(0.82,1)" font-family="Liberation Serif" font-size="15" text-anchor="middle" dominant-baseline="central" fill="#1a1a1a" stroke="#1a1a1a" stroke-width="0.35">L2</text>
<text transform="translate(331.70,587.20) scale(0.82,1)" font-family="Liberation Serif" font-size="15" text-anchor="middle" dominant-baseline="central" fill="#1a1a1a" stroke="#1a1a1a" stroke-width="0.35">L3</text>
<text transform="translate(506.00,290.50) scale(0.78,1)" font-family="Liberation Serif" font-size="15" text-anchor="middle" dominant-baseline="central" fill="#1a1a1a" stroke="#1a1a1a" stroke-width="0.15">D3</text>
<line x1="482.10" y1="301.00" x2="529.00" y2="301.00" stroke="#2a2a2a" stroke-width="1" fill="none"/>
<path d="M498.20,301.00 L490.20,302.10 L490.20,299.90 Z" fill="#111"/>
<path d="M513.30,301.00 L521.30,299.90 L521.30,302.10 Z" fill="#111"/>
<line x1="498.20" y1="294.40" x2="498.20" y2="313.00" stroke="#222" stroke-width="0.9"/>
<line x1="513.30" y1="294.40" x2="513.30" y2="313.00" stroke="#222" stroke-width="0.9"/>
<rect x="498.20" y="313.00" width="15.10" height="19.20" stroke="#111" stroke-width="1.45"  fill="#fff"/>
<circle cx="505.70" cy="322.60" r="4.80" stroke="#111" stroke-width="1.45" fill="none"/>
<path d="M501.5,327 L505.7,322.6 L509.9,327 L505.7,331 Z" stroke="none" fill="#222" />
<line x1="494.00" y1="322.60" x2="517.00" y2="322.60" stroke="#222" stroke-width="0.8"/>
<line x1="505.50" y1="309.00" x2="505.50" y2="332.00" stroke="#222" stroke-width="0.8"/>
<rect x="500.30" y="332.20" width="10.50" height="8.00" stroke="#111" stroke-width="1.45"  fill="#fff"/>
<line x1="503.00" y1="332.20" x2="503.00" y2="340.20" stroke="#111" stroke-width="1.1"/>
<line x1="505.50" y1="332.20" x2="505.50" y2="340.20" stroke="#111" stroke-width="1.1"/>
<line x1="508.10" y1="332.20" x2="508.10" y2="340.20" stroke="#111" stroke-width="1.1"/>
<line x1="500.30" y1="336.20" x2="510.80" y2="336.20" stroke="#111" stroke-width="0.9"/>
<rect x="495.40" y="340.20" width="20.40" height="6.40" stroke="#111" stroke-width="1.45"  fill="#fff"/>
<line x1="505.50" y1="340.20" x2="505.50" y2="346.60" stroke="#111" stroke-width="0.9"/>
<rect x="499.70" y="346.60" width="10.90" height="4.50" stroke="#111" stroke-width="1.45"  fill="#fff"/>
<line x1="503.00" y1="346.60" x2="503.00" y2="351.10" stroke="#111" stroke-width="1.1"/>
<line x1="508.10" y1="346.60" x2="508.10" y2="351.10" stroke="#111" stroke-width="1.1"/>
<path d="M499.3,355.7 L483.3,355.7 Q480.8,355.7 480.8,358.2 L480.8,417" stroke="#111" stroke-width="1.45" fill="none" />
<path d="M511.3,355.7 L527.7,355.7 Q530.2,355.7 530.2,358.2 L530.2,364.3 M530.2,394.9 L530.2,417" stroke="#111" stroke-width="1.45" fill="none" />
<line x1="499.30" y1="351.10" x2="499.30" y2="377.50" stroke="#111" stroke-width="1.45" fill="none"/>
<line x1="511.30" y1="351.10" x2="511.30" y2="377.50" stroke="#111" stroke-width="1.45" fill="none"/>
<line x1="503.90" y1="351.10" x2="503.90" y2="377.50" stroke="#111" stroke-width="1.1"/>
<line x1="508.00" y1="351.10" x2="508.00" y2="377.50" stroke="#111" stroke-width="1.1"/>
<rect x="487.40" y="377.50" width="36.20" height="6.20" stroke="#111" stroke-width="1.45"  fill="#fff"/>
<line x1="505.50" y1="377.50" x2="505.50" y2="383.70" stroke="#111" stroke-width="0.9"/>
<path d="M488.6,377.5 L488.6,372.5 Q488.6,370.5 490.6,370.5 L493.2,370.5 Q495.2,370.5 495.2,372.5 L495.2,377.5" stroke="#111" stroke-width="1.3" fill="#555" />
<line x1="488.60" y1="374.00" x2="495.20" y2="374.00" stroke="#ddd" stroke-width="0.7"/>
<rect x="488.60" y="383.70" width="6.60" height="3.70" stroke="#111" stroke-width="1.2" fill="#555"/>
<path d="M516.2,377.5 L516.2,372.5 Q516.2,370.5 518.2,370.5 L520.8,370.5 Q522.8,370.5 522.8,372.5 L522.8,377.5" stroke="#111" stroke-width="1.3" fill="#555" />
<line x1="516.20" y1="374.00" x2="522.80" y2="374.00" stroke="#ddd" stroke-width="0.7"/>
<rect x="516.20" y="383.70" width="6.60" height="3.70" stroke="#111" stroke-width="1.2" fill="#555"/>
<path d="M526.5,364.3 L562.6,364.3 Q565.1,364.3 565.1,366.8 L565.1,392.4 Q565.1,394.9 562.6,394.9 L526.5,394.9 Z" stroke="#111" stroke-width="1.45" fill="none" fill="#fff"/>
<line x1="534.40" y1="364.30" x2="534.40" y2="394.90" stroke="#111" stroke-width="1.45" fill="none"/>
<line x1="542.50" y1="364.30" x2="542.50" y2="394.90" stroke="#111" stroke-width="1.45" fill="none"/>
<line x1="526.50" y1="379.40" x2="546.50" y2="379.40" stroke="#111" stroke-width="1.45" fill="none"/>
<circle cx="553.90" cy="379.40" r="7.80" stroke="#111" stroke-width="1.9" fill="none"/>
<path d="M548.5,379.4 L551.2,374.4 L556.6,374.4 L559.3,379.4 L556.6,384.4 L551.2,384.4 Z" stroke="#111" stroke-width="1.3" fill="none" />
<circle cx="553.90" cy="379.40" r="2.60" stroke="#111" stroke-width="1.1" fill="none"/>
<line x1="553.90" y1="361.50" x2="553.90" y2="397.60" stroke="#555" stroke-width="0.9"/>
<line x1="546.00" y1="379.40" x2="560.00" y2="379.40" stroke="#333" stroke-width="0.8"/>
<line x1="565.10" y1="394.90" x2="565.10" y2="586.90" stroke="#111" stroke-width="1"/>
<rect x="479.20" y="416.30" width="5.20" height="3.80" stroke="none" fill="#111"/>
<rect x="526.90" y="416.30" width="5.20" height="3.80" stroke="none" fill="#111"/>
<rect x="476.40" y="420.10" width="58.60" height="5.80" stroke="#111" stroke-width="1.45"  fill="#fff"/>
<path d="M476.4,425.9 L469,440.5 L469,444 M535,425.9 L541.5,440.5 L541.5,444" stroke="#111" stroke-width="1.45" fill="none" />
<path d="M536.8,430.2 L541.2,427.6 L543.8,433.6 L539.4,436.2 Z" stroke="#111" stroke-width="1.1" fill="#555" />
<rect x="462.90" y="440.10" width="5.20" height="4.20" stroke="none" fill="#111"/>
<rect x="542.60" y="440.10" width="5.20" height="4.20" stroke="none" fill="#111"/>
<rect x="461.60" y="444.30" width="88.20" height="9.40" stroke="none" fill="#fff"/>
<line x1="461.60" y1="444.30" x2="549.80" y2="444.30" stroke="#222" stroke-width="1.5"/>
<line x1="461.60" y1="449.10" x2="549.80" y2="449.10" stroke="#111" stroke-width="1.45" fill="none"/>
<line x1="461.60" y1="444.30" x2="461.60" y2="453.70" stroke="#111" stroke-width="1.45" fill="none"/>
<line x1="549.80" y1="444.30" x2="549.80" y2="453.70" stroke="#111" stroke-width="1.45" fill="none"/>
<path d="M461.60,453.70 L476.10,453.70 Q477.70,453.70 477.70,455.30 L477.70,460.00 A3.5,3.5 0 0 0 484.70,460.00 L484.70,455.30 Q484.70,453.70 486.30,453.70 L522.50,453.70 Q524.10,453.70 524.10,455.30 L524.10,460.00 A3.5,3.5 0 0 0 531.10,460.00 L531.10,455.30 Q531.10,453.70 532.70,453.70 L549.80,453.70" stroke="#111" stroke-width="1.45" fill="none" />
<line x1="481.20" y1="438.00" x2="481.20" y2="468.00" stroke="#1a1a1a" stroke-width="1.2"/>
<rect x="478.40" y="440.10" width="5.60" height="4.20" stroke="none" fill="#111"/>
<line x1="527.60" y1="438.00" x2="527.60" y2="468.00" stroke="#1a1a1a" stroke-width="1.2"/>
<rect x="524.80" y="440.10" width="5.60" height="4.20" stroke="none" fill="#111"/>
<path d="M465.2,453.7 L465.2,521.5 Q465.2,528.3 472,528.3 L487.3,528.3 M523.9,528.3 L539.5,528.3 Q546,528.3 546,521.5 L546,453.7" stroke="#111" stroke-width="1.45" fill="none" />
<line x1="461.60" y1="453.70" x2="461.60" y2="586.90" stroke="#111" stroke-width="1"/>
<rect x="491.10" y="387.40" width="1.80" height="140.10" stroke="none" fill="#fff"/>
<line x1="490.40" y1="387.40" x2="490.40" y2="527.50" stroke="#111" stroke-width="1.3"/>
<line x1="493.60" y1="387.40" x2="493.60" y2="527.50" stroke="#111" stroke-width="1.3"/>
<rect x="518.30" y="387.40" width="1.70" height="140.10" stroke="none" fill="#fff"/>
<line x1="517.60" y1="387.40" x2="517.60" y2="527.50" stroke="#111" stroke-width="1.3"/>
<line x1="520.70" y1="387.40" x2="520.70" y2="527.50" stroke="#111" stroke-width="1.3"/>
<rect x="497.40" y="383.70" width="16.00" height="142.10" stroke="none" fill="#fff"/>
<line x1="496.70" y1="383.70" x2="496.70" y2="526.50" stroke="#111" stroke-width="1.45" fill="none"/>
<line x1="514.10" y1="383.70" x2="514.10" y2="526.50" stroke="#111" stroke-width="1.45" fill="none"/>
<line x1="496.70" y1="525.80" x2="514.10" y2="525.80" stroke="#111" stroke-width="1.45" fill="none"/>
<line x1="505.50" y1="300.00" x2="505.50" y2="553.60" stroke="#333" stroke-width="0.9"/>
<circle cx="539.00" cy="457.40" r="5.40" stroke="none" fill="#fff"/>
<circle cx="539.00" cy="457.40" r="4.60" stroke="#111" stroke-width="1.0" fill="none"/>
<circle cx="539.00" cy="457.40" r="3.90" stroke="none" fill="#161616"/>
<circle cx="539.00" cy="457.40" r="2.80" stroke="#bbb" stroke-width="0.6" stroke-dasharray="0.9 1.1" fill="none"/>
<circle cx="538.70" cy="456.90" r="0.80" stroke="none" fill="#aaa"/>
<line x1="532.90" y1="457.40" x2="534.40" y2="457.40" stroke="#111" stroke-width="0.8"/>
<line x1="543.60" y1="457.40" x2="545.10" y2="457.40" stroke="#111" stroke-width="0.8"/>
<path d="M535.5,461.5 L532.5,464" stroke="#111" stroke-width="1.2" />
<rect x="537.10" y="474.50" width="9.90" height="20.10" stroke="#111" stroke-width="1.45"  fill="#fff"/>
<line x1="543.80" y1="474.50" x2="543.80" y2="494.60" stroke="#111" stroke-width="1.45" fill="none"/>
<line x1="537.10" y1="476.50" x2="534.50" y2="476.50" stroke="#111" stroke-width="0.9"/>
<line x1="537.10" y1="492.50" x2="534.50" y2="492.50" stroke="#111" stroke-width="0.9"/>
<circle cx="540.00" cy="521.80" r="5.60" stroke="none" fill="#fff"/>
<circle cx="540.00" cy="521.80" r="4.80" stroke="#111" stroke-width="1.0" fill="none"/>
<circle cx="540.00" cy="521.80" r="4.10" stroke="none" fill="#161616"/>
<circle cx="540.00" cy="521.80" r="3.00" stroke="#bbb" stroke-width="0.6" stroke-dasharray="0.9 1.1" fill="none"/>
<circle cx="539.70" cy="521.30" r="0.80" stroke="none" fill="#aaa"/>
<line x1="533.70" y1="521.80" x2="535.20" y2="521.80" stroke="#111" stroke-width="0.8"/>
<line x1="544.80" y1="521.80" x2="546.30" y2="521.80" stroke="#111" stroke-width="0.8"/>
<line x1="540.00" y1="527.00" x2="540.00" y2="533.00" stroke="#111" stroke-width="0.9"/>
<rect x="487.30" y="527.50" width="36.60" height="5.60" stroke="#111" stroke-width="1.45"  fill="#fff"/>
<path d="M494.6,533.1 L494.6,539.6 A11,11 0 0 0 516.6,539.6 L516.6,533.1" stroke="#111" stroke-width="1.45" fill="none" />
<path d="M496.5,533.1 L499.6,539.6 A6,6 0 0 0 511.6,539.6 L514.7,533.1" stroke="#111" stroke-width="1.45" fill="none" />
<circle cx="505.60" cy="539.70" r="4.00" stroke="#111" stroke-width="1.45" fill="none"/>
<line x1="487.70" y1="539.70" x2="519.70" y2="539.70" stroke="#222" stroke-width="0.9"/>
<line x1="505.50" y1="527.00" x2="505.50" y2="553.60" stroke="#333" stroke-width="0.9"/>
<line x1="461.60" y1="580.70" x2="565.10" y2="580.70" stroke="#2a2a2a" stroke-width="1" fill="none"/>
<path d="M461.60,580.70 L470.60,579.50 L470.60,581.90 Z" fill="#111"/>
<path d="M565.10,580.70 L556.10,581.90 L556.10,579.50 Z" fill="#111"/>
<text transform="translate(516.00,570.20) scale(0.82,1)" font-family="Liberation Serif" font-size="15" text-anchor="middle" dominant-baseline="central" fill="#1a1a1a" stroke="#1a1a1a" stroke-width="0.1">L4</text>
<line x1="70.20" y1="686.50" x2="113.00" y2="686.50" stroke="#111" stroke-width="1.3"/>
<rect x="117.00" y="664.60" width="16.10" height="20.60" stroke="#222" stroke-width="1.3" fill="none"/>
<rect x="144.20" y="664.60" width="16.10" height="20.60" stroke="#222" stroke-width="1.3" fill="none"/>
<rect x="175.60" y="664.60" width="16.60" height="20.60" stroke="#222" stroke-width="1.3" fill="none"/>
<rect x="204.80" y="664.60" width="15.80" height="20.60" stroke="#222" stroke-width="1.3" fill="none"/>
<line x1="171.30" y1="664.40" x2="165.10" y2="685.60" stroke="#222" stroke-width="1.3"/>
<line x1="222.20" y1="676.20" x2="253.80" y2="676.20" stroke="#222" stroke-width="1.3" fill="none"/>
<path d="M183.6,690.6 L183.6,702.6 L253.8,702.6" stroke="#222" stroke-width="1.3" fill="none" />
<path d="M153.2,690.6 L153.2,729.2 L253.6,729.2" stroke="#222" stroke-width="1.3" fill="none" />
<path d="M125.5,690.6 L125.5,775.6 L253.6,775.6" stroke="#222" stroke-width="1.3" fill="none" />
<path d="M97.1,690.6 L97.1,798.6 L253.6,798.6" stroke="#222" stroke-width="1.3" fill="none" />
<path d="M109.1,682.9 L109.1,671.8 L106.2,674.8" stroke="#111" stroke-width="1.55" fill="none" stroke-linejoin="bevel" />
<path d="M510.3,737 L510.3,726.8 L507.2,729.6" stroke="#111" stroke-width="1.5" fill="none" stroke-linejoin="bevel" />
<rect x="454.10" y="696.70" width="238.80" height="88.50" stroke="#111" stroke-width="1.4" fill="none"/>
<line x1="560.40" y1="696.70" x2="560.40" y2="785.20" stroke="#222" stroke-width="1.3"/>
<line x1="454.10" y1="718.70" x2="692.90" y2="718.70" stroke="#222" stroke-width="1.3"/>
<line x1="454.10" y1="741.30" x2="692.90" y2="741.30" stroke="#222" stroke-width="1.3"/>
<line x1="454.10" y1="763.40" x2="692.90" y2="763.40" stroke="#222" stroke-width="1.3"/>
<defs>
<linearGradient id="pbg" x1="0" y1="0" x2="0" y2="1"><stop offset="0" stop-color="#c2c2c2"/><stop offset="1" stop-color="#f7f7f7"/></linearGradient>
<linearGradient id="teal" x1="0" y1="0" x2="1" y2="0"><stop offset="0" stop-color="#1b9597"/><stop offset=".3" stop-color="#22a6a6"/><stop offset=".7" stop-color="#1ea2a3"/><stop offset="1" stop-color="#188f91"/></linearGradient>
<linearGradient id="tealc" x1="0" y1="0" x2="1" y2="0"><stop offset="0" stop-color="#1c9a9b"/><stop offset=".35" stop-color="#3bb8b8"/><stop offset=".55" stop-color="#24a8a9"/><stop offset=".8" stop-color="#45c0c0"/><stop offset="1" stop-color="#1a9597"/></linearGradient>
<linearGradient id="hous" x1="0" y1="0" x2="1" y2="0"><stop offset="0" stop-color="#6f7a6e"/><stop offset=".45" stop-color="#a2aa9f"/><stop offset="1" stop-color="#68726a"/></linearGradient>
<linearGradient id="brass" x1="0" y1="0" x2="1" y2="0"><stop offset="0" stop-color="#b8932e"/><stop offset=".5" stop-color="#e8cf73"/><stop offset="1" stop-color="#a98227"/></linearGradient>
</defs>
<rect x="548.5" y="78.5" width="151" height="149.8" fill="url(#pbg)" stroke="#333" stroke-width="1"/>
<rect x="619.8" y="82.3" width="8.7" height="11" rx="1.5" fill="url(#brass)"/>
<rect x="621.5" y="92.5" width="5.5" height="5" fill="#d9cfb4"/>
<rect x="604.8" y="93.5" width="3" height="4" fill="#b7b0a0"/>
<rect x="640" y="93.5" width="3" height="4" fill="#b7b0a0"/>
<rect x="601.5" y="97.2" width="44.8" height="4" fill="#d8d0ba" stroke="#9a927c" stroke-width=".5"/>
<rect x="604" y="101" width="6.4" height="48" fill="#141414"/>
<rect x="638.2" y="101" width="6.6" height="48" fill="#141414"/>
<rect x="609.5" y="104" width="29" height="45" rx="2" fill="url(#hous)"/>
<rect x="610.5" y="104" width="27" height="8" rx="2" fill="#b5bcb3"/>
<circle cx="620.5" cy="123.5" r="9.5" fill="#b9bfb6" stroke="#6e786c" stroke-width=".8"/>
<rect x="597.2" y="116.5" width="13" height="10.5" rx="2" fill="#c7cecb" stroke="#8c948f" stroke-width=".6"/>
<text x="620" y="127.6" font-family="Liberation Sans" font-weight="bold" font-size="11" fill="#d41f2a" stroke="#d41f2a" stroke-width=".4" text-anchor="middle" transform="rotate(-15 620 123.5)">EX</text>
<circle cx="613" cy="110" r="1.3" fill="#5d655b"/><circle cx="633" cy="110" r="1.3" fill="#5d655b"/><circle cx="634" cy="124" r="1.3" fill="#5d655b"/><circle cx="613" cy="139" r="1.3" fill="#5d655b"/><circle cx="633" cy="139" r="1.3" fill="#5d655b"/>
<path d="M602.5,148.3 L647.5,148.3 L649.3,160.5 L600.8,160.5 Z" fill="url(#tealc)"/>
<rect x="600.5" y="160" width="49" height="3" fill="#1e6f70"/>
<circle cx="621" cy="153.5" r="2.5" fill="#d9e3e2"/>
<path d="M602.5,163 L648,163 L648,209 Q648,213.2 643.5,213.2 L607,213.2 Q602.5,213.2 602.5,209 Z" fill="url(#teal)"/>
<rect x="610.9" y="176.6" width="22.8" height="12.5" fill="#e9ecea"/>
<rect x="612" y="177.8" width="20.6" height="10.1" fill="#3b3630"/>
<path d="M613.5,180 h3 v5 M618,180 h3 l-1.5,5 M623,180 v5 h2 M626.5,180 h4 v2 h-3 v3" stroke="#eee" stroke-width="1" fill="none"/>
<circle cx="608.8" cy="166.3" r="2.4" fill="#0d3f40"/>
<circle cx="609.3" cy="210.3" r="2.4" fill="#0d3f40"/>
<rect x="611.4" y="213" width="7.3" height="11.6" fill="#0f6a6c"/>
<rect x="631.8" y="213" width="6.8" height="11.6" fill="#0f6a6c"/>
</svg><!--/SVG-->

</body></html>
